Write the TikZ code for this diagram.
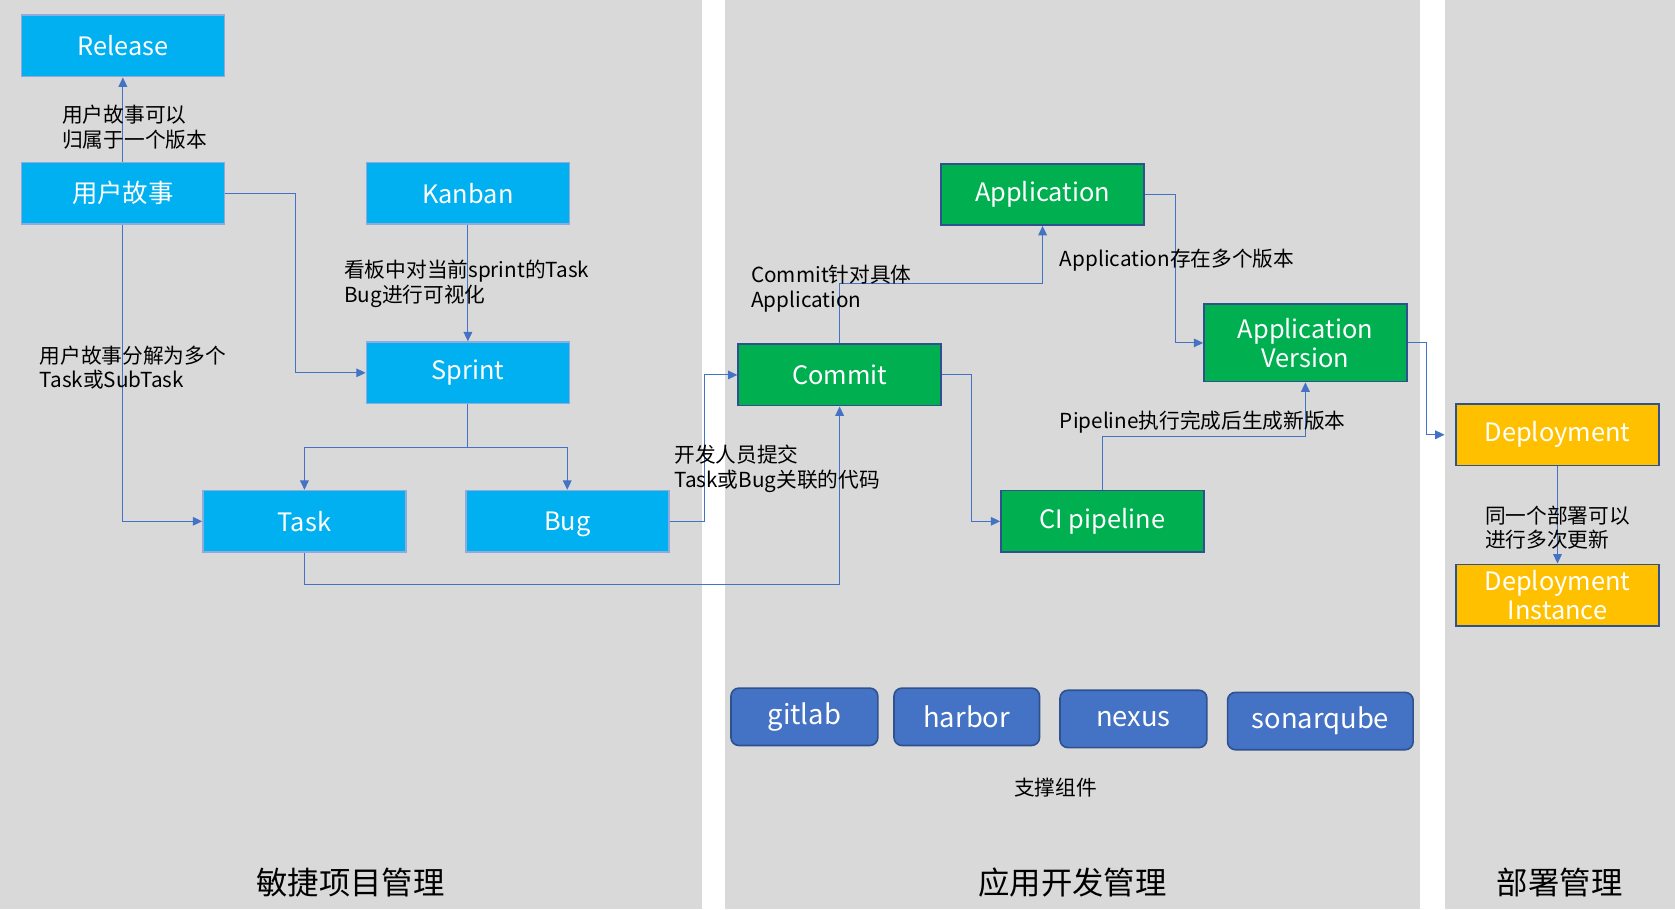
\documentclass[tikz,border=0pt]{standalone}
\usepackage{fontspec}
\setmainfont{Noto Sans CJK SC}
\usetikzlibrary{arrows.meta}

\definecolor{panelgray}{HTML}{D9D9D9}
\definecolor{agileblue}{HTML}{00B0F0}
\definecolor{agileline}{HTML}{8FAADC}
\definecolor{devgreen}{HTML}{00B050}
\definecolor{deployyellow}{HTML}{FFC000}
\definecolor{darkedge}{HTML}{2F528F}
\definecolor{toolblue}{HTML}{4472C4}

\begin{document}
\begin{tikzpicture}[x=0.8pt,y=-0.8pt]
        \tikzstyle{every node}=[font=\fontsize{15.5}{18.5}\selectfont]
        \tikzstyle{item}=[draw, line width=1.2pt, minimum width=152pt, minimum height=46pt,
            inner sep=0pt, text=white, align=center, font=\fontsize{19}{21.5}\selectfont]
        \tikzstyle{agile}=[item, fill=agileblue, draw=agileline]
        \tikzstyle{dev}=[item, fill=devgreen, draw=darkedge]
        \tikzstyle{ops}=[item, fill=deployyellow, draw=darkedge]
        \tikzstyle{tool}=[item, fill=toolblue, draw=darkedge, rounded corners=6pt,
            minimum height=43pt, font=\fontsize{20.5}{24}\selectfont]
        \tikzstyle{link}=[draw=toolblue, line width=0.8pt, -{Triangle[width=6.5pt,length=7pt]}]
        \tikzstyle{note}=[anchor=west, align=left, inner sep=0pt]
        \tikzstyle{title}=[font=\fontsize{23.5}{28}\selectfont]

        % panels
        \useasboundingbox (0,0) rectangle (1568,851);
        \fill[white] (0,0) rectangle (1568,851);
        \fill[panelgray] (0,0) rectangle (657,851);
        \fill[panelgray] (679,0) rectangle (1329,851);
        \fill[panelgray] (1353,0) rectangle (1568,851);

        % agile project management
        \node[agile] (release) at (115,43) {Release};
        \node[agile] (story) at (115,181) {用户故事};
        \node[agile] (kanban) at (438,181) {Kanban};
        \node[agile] (sprint) at (438,349) {Sprint};
        \node[agile] (task) at (285,488) {Task};
        \node[agile] (bug) at (531,488) {\raisebox{0pt}[\height][0pt]{Bug}};

        % application development
        \node[dev] (commit) at (786,351) {Commit};
        \node[dev] (app) at (976,182) {Application};
        \node[dev, minimum height=58pt] (appversion) at (1222,321) {Application\\Version};
        \node[dev] (ci) at (1032,488) {CI pipeline};

        % deployment
        \node[ops] (deploy) at (1458,407) {Deployment};
        \node[ops] (instance) at (1458,557) {Deployment\\Instance};

        % supporting tools
        \node[tool, minimum width=110pt] (gitlab) at (753,671) {gitlab};
        \node[tool, minimum width=109pt] (harbor) at (905,671) {harbor};
        \node[tool, minimum width=110pt] (nexus) at (1061,673) {nexus};
        \node[tool, minimum width=139pt] (sonarqube) at (1236,675) {sonarqube};

        % connectors
        \draw[link] (story) -- (release);
        \draw[link] (story.east) -- ++(66,0) |- (sprint.west);
        \draw[link] (kanban) -- (sprint);
        \draw[link] (story.south) |- (task.west);
        \draw[link] (sprint.south) -- ++(0,40) -| (task.north);
        \draw[link] (sprint.south) -- ++(0,40) -| (bug.north);
        \draw[link] (bug.east) -- ++(33,0) |- (commit.west);
        \draw[link] (task.south) -- ++(0,30) -| (commit.south);
        \draw[link] (commit.north) -- ++(0,-56) -| (app.south);
        \draw[link] (app.east) -- ++(29,0) |- (appversion.west);
        \draw[link] (commit.east) -- ++(28,0) |- (ci.west);
        \draw[link] (ci.north) -- ++(0,-50) -| (appversion.south);
        \draw[link, shorten >=8pt] (appversion.east) -- ++(18,0) |- (deploy.west);
        \draw[link] (deploy) -- (instance);

        % labels
        \node[note] (releasenote) at (58,119) {用户故事可以\\归属于一个版本};
        \node[note] (kanbannote) at (322,266) {看板中对当前sprint的Task\\Bug进行可视化};
        \node[note] (storynote) at (37,344) {用户故事分解为多个\\Task或SubTask};
        \node[note] (commitnote) at (631,439) {开发人员提交\\Task或Bug关联的代码};
        \node[note] (appnote) at (703,270) {Commit针对具体\\Application};
        \node[note] (versionnote) at (992,244) {Application存在多个版本};
        \node[note] (pipenote) at (992,395) {Pipeline执行完成后生成新版本};
        \node[note] (deploynote) at (1390,494) {同一个部署可以\\进行多次更新};
        \node (toolnote) at (988,737) {支撑组件};

        % panel titles
        \node[title] (agiletitle) at (328,826) {敏捷项目管理};
        \node[title] (devtitle) at (1004,826) {应用开发管理};
        \node[title] (opstitle) at (1460,826) {部署管理};
\end{tikzpicture}
\end{document}
